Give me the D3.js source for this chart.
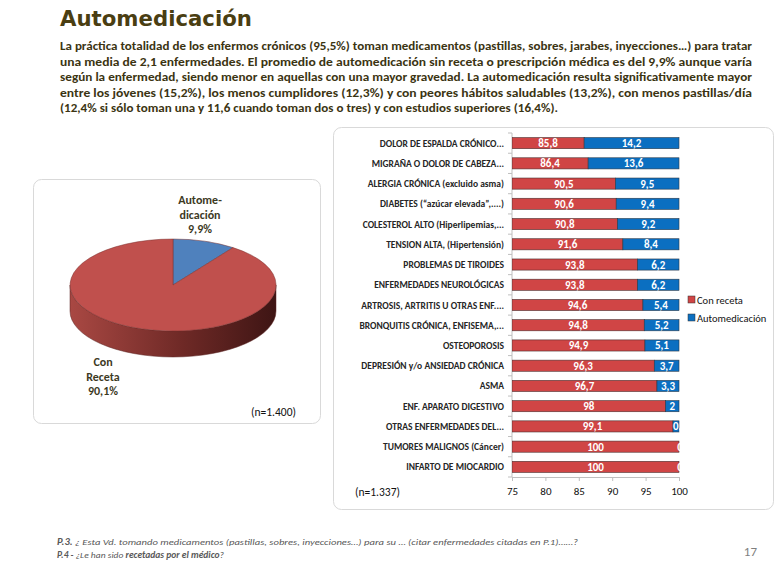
<!DOCTYPE html>
<html>
<head>
<meta charset="utf-8">
<script src="https://cdn.jsdelivr.net/npm/d3@7"></script>
<style>
  body { margin: 0; background: #fff; }
  svg text { font-family: Carlito, Calibri, Lato, "Open Sans", sans-serif; }
</style>
</head>
<body>
<script>
 // data
 var categories = ['DOLOR DE ESPALDA CRÓNICO...','MIGRAÑA O DOLOR DE CABEZA...','ALERGIA CRÓNICA (excluido asma)',
   'DIABETES (“azúcar elevada”,....)','COLESTEROL ALTO (Hiperlipemias,...','TENSION ALTA, (Hipertensión)',
   'PROBLEMAS DE TIROIDES','ENFERMEDADES NEUROLÓGICAS','ARTROSIS, ARTRITIS U OTRAS ENF....',
   'BRONQUITIS CRÓNICA, ENFISEMA,...','OSTEOPOROSIS','DEPRESIÓN y/o ANSIEDAD CRÓNICA','ASMA',
   'ENF. APARATO DIGESTIVO','OTRAS ENFERMEDADES DEL...','TUMORES MALIGNOS (Cáncer)','INFARTO DE MIOCARDIO'];
 var conReceta = [85.8, 86.4, 90.5, 90.6, 90.8, 91.6, 93.8, 93.8, 94.6, 94.8, 94.9, 96.3, 96.7, 98, 99.1, 100, 100];
 var automedicacion = [14.2, 13.6, 9.5, 9.4, 9.2, 8.4, 6.2, 6.2, 5.4, 5.2, 5.1, 3.7, 3.3, 2, 0.9, 0, 0];
 var xTicks = [75, 80, 85, 90, 95, 100];
 var seriesNames = ['Con receta', 'Automedicación'];

 var pieNames = ['Automedicación', 'Con Receta'];
 var pieValues = [9.9, 90.1];

 var paragraph = [
   'La práctica totalidad de los enfermos crónicos (95,5%) toman medicamentos (pastillas, sobres, jarabes, inyecciones…) para tratar',
   'una media de 2,1 enfermedades. El promedio de automedicación sin receta o prescripción médica es del  9,9% aunque varía',
   'según la enfermedad, siendo menor en aquellas con una mayor gravedad. La automedicación resulta significativamente mayor',
   'entre los jóvenes (15,2%), los menos cumplidores (12,3%) y con peores hábitos saludables (13,2%), con menos pastillas/día',
   '(12,4% si sólo toman una y 11,6 cuando toman dos o tres) y con estudios superiores (16,4%).'
 ];

 var red = '#d04545', blue = '#0b6fc1';
 var textDark = '#3b3412';

 var svg = d3.select('body').append('svg').attr('width', 776).attr('height', 570);
 var defs = svg.append('defs');

 // title + intro
 svg.append('text').attr('x', 60).attr('y', 26).text('Automedicación')
    .style('font-family', '"DejaVu Sans", Verdana, sans-serif')
    .style('font-size', '22px').style('font-weight', 'bold').style('fill', '#4a3e12')
    .attr('textLength', 192).attr('lengthAdjust', 'spacingAndGlyphs');

 // justified block: full lines 692px, last line shorter
 var lineWidths = [692, 692, 692, 692, 498];
 svg.selectAll('text.par').data(paragraph).enter().append('text')
    .attr('class', 'par')
    .attr('x', 60)
    .attr('y', function(d, i) { return 50 + i * 15.5; })
    .text(function(d) { return d; })
    .attr('textLength', function(d, i) { return lineWidths[i]; })
    .attr('lengthAdjust', 'spacingAndGlyphs')
    .style('font-size', '12.8px').style('font-weight', 'bold').style('fill', textDark);

 // panels
 svg.append('rect').attr('x', 33.5).attr('y', 179.5).attr('width', 287).attr('height', 244).attr('rx', 8)
    .style('fill', '#fff').style('stroke', '#d9d9d9');
 svg.append('rect').attr('x', 333.5).attr('y', 127.5).attr('width', 440).attr('height', 382).attr('rx', 8)
    .style('fill', '#fff').style('stroke', '#d9d9d9');

 // ---- 3D pie ----
 var cx = 173, cy = 285, rx = 103, ry = 46, depth = 26;
 var sideGrad = defs.append('linearGradient').attr('id', 'side').attr('x1', '0%').attr('x2', '100%');
 sideGrad.append('stop').attr('offset', '0%').attr('stop-color', '#a94843');
 sideGrad.append('stop').attr('offset', '55%').attr('stop-color', '#6e2926');
 sideGrad.append('stop').attr('offset', '100%').attr('stop-color', '#3e1514');

 svg.append('path')
    .attr('d', 'M' + (cx - rx) + ',' + cy + ' A' + rx + ',' + ry + ' 0 0 0 ' + (cx + rx) + ',' + cy +
               ' L' + (cx + rx) + ',' + (cy + depth) + ' A' + rx + ',' + ry + ' 0 0 1 ' + (cx - rx) + ',' + (cy + depth) + ' Z')
    .style('fill', 'url(#side)').style('stroke', '#5a2220').style('stroke-width', 0.5);

 var pie = d3.pie().sort(null)(pieValues);
 var arc = d3.arc().innerRadius(0).outerRadius(1);
 var pieColors = ['#4f81bd', '#c0504d'];
 svg.append('g').attr('transform', 'translate(' + cx + ',' + cy + ') scale(' + rx + ',' + ry + ')')
    .selectAll('path').data(pie).enter().append('path')
    .attr('d', arc)
    .style('fill', function(d, i) { return pieColors[i]; })
    .style('stroke', '#7a3330').style('stroke-width', 0.5).attr('vector-effect', 'non-scaling-stroke');

 function fmt(v) { return d3.format('.1f')(v).replace('.', ','); }
 var pieLabelLines = [['Autome-', 'dicación', fmt(pieValues[0]) + '%'], ['Con', 'Receta', fmt(pieValues[1]) + '%']];
 var pieLabelPos = [[200, 204], [103, 366]];
 pieLabelLines.forEach(function(lines, k) {
   svg.append('g').selectAll('text').data(lines).enter().append('text')
      .attr('x', pieLabelPos[k][0]).attr('y', function(d, i) { return pieLabelPos[k][1] + i * 14.5; })
      .attr('text-anchor', 'middle').text(function(d) { return d; })
      .style('font-size', '12px').style('font-weight', 'bold').style('fill', '#3d3a1f');
 });
 svg.append('text').attr('x', 296).attr('y', 416).attr('text-anchor', 'end').text('(n=1.400)')
    .style('font-size', '11.5px').style('fill', '#111');

 // ---- bar chart ----
 var x = d3.scaleLinear().domain([75, 100]).range([512, 679]);
 var y = d3.scaleBand().domain(categories).range([133, 477]).paddingInner(0.45).paddingOuter(0.225);

 defs.append('clipPath').attr('id', 'plotclip').append('rect')
    .attr('x', 512).attr('y', 127).attr('width', 170).attr('height', 360);

 // value axis
 var xAxis = svg.append('g').attr('transform', 'translate(0,477)')
    .call(d3.axisBottom(x).tickValues(xTicks).tickSize(4).tickPadding(6));
 xAxis.select('.domain').style('stroke', '#bfbfbf');
 xAxis.selectAll('.tick line').style('stroke', '#bfbfbf');
 xAxis.selectAll('text').style('font-size', '11px').style('fill', '#111')
    .style('font-family', 'Carlito, Calibri, Lato, sans-serif');

 // category axis line + ticks at row boundaries
 svg.append('line').attr('x1', 512).attr('x2', 512).attr('y1', 133).attr('y2', 477).style('stroke', '#bfbfbf');
 var bounds = d3.range(categories.length + 1).map(function(i) { return 133 + i * y.step(); });
 svg.selectAll('line.ytick').data(bounds).enter().append('line').attr('class', 'ytick')
    .attr('x1', 508).attr('x2', 512).attr('y1', function(d) { return d; }).attr('y2', function(d) { return d; })
    .style('stroke', '#bfbfbf');

 svg.selectAll('text.cat').data(categories).enter().append('text').attr('class', 'cat')
    .attr('x', 504).attr('y', function(d) { return y(d) + y.bandwidth() / 2 + 3.5; })
    .attr('text-anchor', 'end').text(function(d) { return d; })
    .style('font-size', '9.5px').style('font-weight', 'bold').style('fill', '#262626');

 var rows = categories.map(function(c, i) { return {cat: c, a: conReceta[i], b: automedicacion[i]}; });
 var plot = svg.append('g').attr('clip-path', 'url(#plotclip)');
 plot.selectAll('rect.r').data(rows).enter().append('rect').attr('class', 'r')
    .attr('x', x(75)).attr('y', function(d) { return y(d.cat); })
    .attr('width', function(d) { return x(d.a) - x(75); }).attr('height', y.bandwidth())
    .style('fill', red).style('stroke', '#4a3030').style('stroke-width', 0.6);
 plot.selectAll('rect.b').data(rows.filter(function(d) { return d.b > 0; })).enter().append('rect').attr('class', 'b')
    .attr('x', function(d) { return x(d.a); }).attr('y', function(d) { return y(d.cat); })
    .attr('width', function(d) { return x(d.a + d.b) - x(d.a); }).attr('height', y.bandwidth())
    .style('fill', blue).style('stroke', '#2a3a4a').style('stroke-width', 0.6);

 function lbl(v) { return String(v).replace('.', ','); }
 plot.selectAll('text.vr').data(rows).enter().append('text').attr('class', 'vr')
    .attr('x', function(d) { return (x(75) + x(d.a)) / 2; })
    .attr('y', function(d) { return y(d.cat) + y.bandwidth() / 2 + 4; })
    .attr('text-anchor', 'middle').text(function(d) { return lbl(d.a); })
    .style('font-size', '11px').style('font-weight', 'bold').style('fill', '#fff');
 plot.selectAll('text.vb').data(rows).enter().append('text').attr('class', 'vb')
    .attr('x', function(d) {
      // tiny segments: label sits on the 100 line and gets cut like in the original
      return x(100) - x(d.a) < 10 ? x(100) + 1 : (x(d.a) + x(100)) / 2;
    })
    .attr('y', function(d) { return y(d.cat) + y.bandwidth() / 2 + 4; })
    .attr('text-anchor', 'middle').text(function(d) { return lbl(d.b); })
    .style('font-size', '11px').style('font-weight', 'bold').style('fill', '#fff');

 svg.append('text').attr('x', 355).attr('y', 496).text('(n=1.337)')
    .style('font-size', '11.5px').style('fill', '#111');

 // legend
 var leg = svg.append('g').selectAll('g').data(seriesNames).enter().append('g')
    .attr('transform', function(d, i) { return 'translate(688,' + (296 + i * 18) + ')'; });
 leg.append('rect').attr('width', 7).attr('height', 7)
    .style('fill', function(d, i) { return i ? blue : red; }).style('stroke', '#333').style('stroke-width', 0.5);
 leg.append('text').attr('x', 9).attr('y', 7.5).text(function(d) { return d; })
    .style('font-size', '10.5px').style('fill', '#111');

 // footer
 var foot = svg.append('g').style('font-family', '"Liberation Sans Narrow", "Liberation Sans", Arial, sans-serif')
    .style('font-style', 'italic').style('font-size', '9px').style('fill', '#595959');
 var f1 = foot.append('text').attr('x', 57).attr('y', 545).attr('textLength', 521).attr('lengthAdjust', 'spacingAndGlyphs');
 f1.append('tspan').style('font-weight', 'bold').text('P.3.');
 f1.append('tspan').text(' ¿ Esta Vd. tomando medicamentos (pastillas, sobres, inyecciones…) para su … (citar enfermedades citadas en P.1)……?');
 var f2 = foot.append('text').attr('x', 57).attr('y', 558).attr('textLength', 167).attr('lengthAdjust', 'spacingAndGlyphs');
 f2.append('tspan').style('font-weight', 'bold').text('P.4 -');
 f2.append('tspan').text(' ¿Le han sido ');
 f2.append('tspan').style('font-weight', 'bold').text('recetadas por el médico');
 f2.append('tspan').text('?');
 svg.append('text').attr('x', 757).attr('y', 556).attr('text-anchor', 'end').text('17')
    .style('font-size', '13px').style('fill', '#7f7f7f');
</script>
</body>
</html>
